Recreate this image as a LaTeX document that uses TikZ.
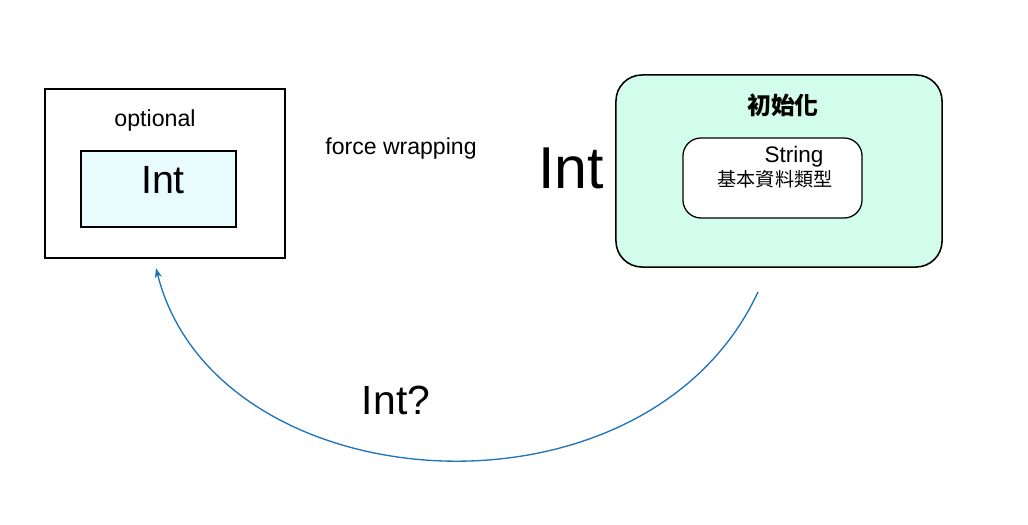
\documentclass[tikz,border=0pt]{standalone}
\usepackage{xcolor}
\usepackage{fontspec}
\setmainfont{Liberation Sans}
\newfontfamily\cjk{Noto Sans CJK TC}
\usetikzlibrary{arrows.meta}
\definecolor{lightcyan}{HTML}{E8FCFD}
\definecolor{mint}{HTML}{D2FCEB}
\definecolor{arrowblue}{HTML}{1F74BA}

\begin{document}
\begin{tikzpicture}[x=0.025cm, y=-0.025cm]
\useasboundingbox (0,0) rectangle (1028,525);
%draw boxes
\node[draw, line width=1pt, minimum width=6cm, minimum height=4.225cm] (optbox) at (165,173.5) {};
\node[draw, line width=0.8pt, fill=lightcyan, minimum width=3.875cm, minimum height=1.9cm] (intbox) at (158.5,189) {};
\node[draw, line width=1.1pt, fill=mint, rounded corners=0.65cm, minimum width=8.15cm, minimum height=4.8cm] (initbox) at (779,171) {};
\node[draw, line width=0.9pt, fill=white, rounded corners=0.45cm, minimum width=4.475cm, minimum height=2cm] (strbox) at (772.5,178) {};
%draw texts
\node[font=\fontsize{16.5}{18}\selectfont] (optional) at (155,121) {optional};
\node[font=\fontsize{28}{30}\selectfont] (intin) at (163,180) {Int};
\node[font=\fontsize{16.4}{18}\selectfont] (force) at (401,149) {force wrapping};
\node[font=\fontsize{42}{44}\selectfont] (intbig) at (571,168) {Int};
\node[font=\cjk\bfseries\fontsize{17}{19}\selectfont] (init) at (783,105) {初始化};
\node[font=\fontsize{16}{18}\selectfont] (string) at (794,157) {String};
\node[font=\cjk\fontsize{13.6}{15}\selectfont] (basic) at (775,179) {基本資料類型};
\node[font=\fontsize{29}{31}\selectfont] (intq) at (396,400) {Int?};
%draw arrow
\coordinate (from) at (758,292);
\coordinate (to) at (156,268);
\draw[arrowblue, line width=0.95pt, -{Stealth[length=7pt, width=5pt]}] (from) .. controls (645,535) and (215,505) .. (to);
\end{tikzpicture}
\end{document}
